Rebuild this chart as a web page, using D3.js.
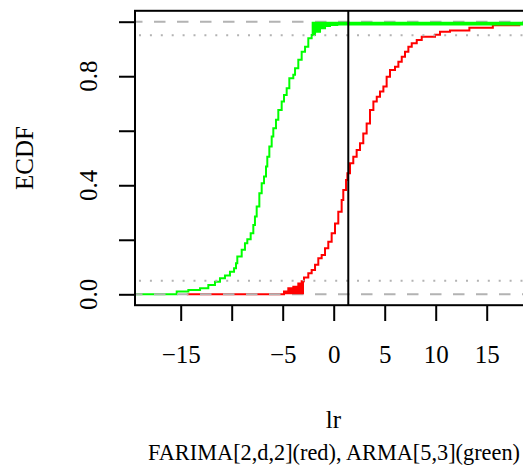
<!DOCTYPE html>
<html>
<head>
<meta charset="utf-8">
<script src="https://cdn.jsdelivr.net/npm/d3@7"></script>
<style>
  html, body { margin: 0; padding: 0; background: #ffffff; }
  svg { display: block; }
  text { font-family: "Liberation Serif", "Times New Roman", serif; fill: #000; }
</style>
</head>
<body>
<svg id="chart" width="523" height="467"></svg>
<script>
// ---- data (ECDF step locations and levels) ----
const redX = [-14.4, -4.87, -4.45, -3.96, -3.47, -3.14, -2.91, -2.49, -2.16, -1.83, -1.51, -1.18, -0.85, -0.53, -0.20, 0.13, 0.45, 0.78, 0.94, 1.21, 1.34, 1.60, 1.92, 2.25, 2.58, 2.90, 3.23, 3.56, 3.89, 4.22, 4.54, 4.87, 5.19, 5.52, 6.01, 6.34, 6.67, 6.99, 7.32, 7.65, 8.14, 8.63, 9.93, 10.42, 11.40, 13.30, 15.60, 18.30];
const redF = [0, 0.010, 0.022, 0.028, 0.040, 0.048, 0.062, 0.077, 0.089, 0.108, 0.132, 0.144, 0.169, 0.193, 0.224, 0.260, 0.303, 0.346, 0.383, 0.419, 0.444, 0.481, 0.505, 0.529, 0.554, 0.590, 0.627, 0.676, 0.707, 0.725, 0.744, 0.762, 0.798, 0.823, 0.835, 0.853, 0.871, 0.890, 0.908, 0.921, 0.933, 0.945, 0.952, 0.963, 0.968, 0.978, 0.987, 0.987];
const greenX = [-21, -15.39, -14.25, -13.10, -12.29, -11.64, -11.15, -10.66, -10.17, -9.77, -9.58, -9.45, -9.02, -8.70, -8.47, -8.14, -7.88, -7.72, -7.55, -7.29, -7.06, -6.83, -6.64, -6.51, -6.31, -6.08, -5.92, -5.66, -5.43, -5.10, -4.87, -4.61, -4.35, -3.96, -3.79, -3.47, -3.14, -2.81, -2.49, -2.16, -1.83, -1.34, -0.85, -0.36, 0.35, 21];
const greenF = [0, 0.010, 0.016, 0.022, 0.034, 0.046, 0.059, 0.069, 0.083, 0.096, 0.114, 0.139, 0.163, 0.187, 0.202, 0.224, 0.254, 0.285, 0.322, 0.371, 0.407, 0.432, 0.469, 0.505, 0.542, 0.579, 0.609, 0.640, 0.676, 0.707, 0.731, 0.756, 0.793, 0.805, 0.829, 0.860, 0.890, 0.908, 0.939, 0.951, 0.963, 0.976, 0.984, 0.988, 0.990, 0.990];
const vlineX = 1.43;
const hDashed = [0, 1];
const hDotted = [0.05, 0.95];
const xTicks = [-15, -10, -5, 0, 5, 10, 15];
const xTickLabels = ["\u221215", "", "\u22125", "0", "5", "10", "15"];
const yTicks = [0, 0.2, 0.4, 0.6, 0.8, 1.0];
const yLabelValues = [0, 0.4, 0.8];
const yLabelTexts = ["0.0", "0.4", "0.8"];
const redCut = -2.91;    // lower 5% tail end (red)
const greenCut = -2.16;  // upper 5% tail start (green)

const svg = d3.select("#chart");
const x = d3.scaleLinear().domain([-19.48, 19.44]).range([135, 532]);
const y = d3.scaleLinear().domain([-0.04, 1.04]).range([305.2, 10.8]);

svg.append("defs").append("clipPath").attr("id", "clip")
  .append("rect").attr("x", 135).attr("y", 10.8).attr("width", 397).attr("height", 294.4);

const plot = svg.append("g").attr("clip-path", "url(#clip)");
const toPts = (xs, fs) => xs.map((v, i) => [v, fs[i]]);
const redPts = toPts(redX, redF);
const greenPts = toPts(greenX, greenF);
const step = d3.line().x(d => x(d[0])).y(d => y(d[1])).curve(d3.curveStepAfter);

plot.append("path").attr("d", step(redPts)).attr("fill", "none").attr("stroke", "#ff0000").attr("stroke-width", 2);
plot.append("path").attr("d", step(greenPts)).attr("fill", "none").attr("stroke", "#00ff00").attr("stroke-width", 2);

// reference lines
hDashed.forEach(v => {
  plot.append("line").attr("x1", 135).attr("x2", 532).attr("y1", y(v)).attr("y2", y(v))
    .attr("stroke", "#b3b3b3").attr("stroke-width", 2).attr("stroke-dasharray", "11.5,11.5").attr("stroke-dashoffset", 4);
});
hDotted.forEach(v => {
  plot.append("line").attr("x1", 135).attr("x2", 532).attr("y1", y(v)).attr("y2", y(v))
    .attr("stroke", "#b3b3b3").attr("stroke-width", 2).attr("stroke-dasharray", "2,8.9").attr("stroke-dashoffset", -4);
});

// red lower-tail fill
const redTail = redPts.filter(d => d[0] >= redX[1] && d[0] <= redCut);
const redPoly = [[redTail[0][0], 0]];
redTail.forEach((d, i) => {
  redPoly.push([d[0], i === 0 ? 0 : redTail[i - 1][1]]);
  redPoly.push([d[0], d[1]]);
});
redPoly.push([redCut, 0]);
plot.append("path").attr("d", d3.line().x(d => x(d[0])).y(d => y(d[1]))(redPoly) + "Z").attr("fill", "#ff0000");

// green upper-tail fill
const greenTail = greenPts.filter(d => d[0] >= greenCut);
const greenPoly = [[greenCut, 1]];
greenTail.forEach((d, i) => {
  if (i > 0) greenPoly.push([d[0], greenTail[i - 1][1]]);
  greenPoly.push([d[0], d[1]]);
});
greenPoly.push([greenTail[greenTail.length - 1][0], 1]);
plot.append("path").attr("d", d3.line().x(d => x(d[0])).y(d => y(d[1]))(greenPoly) + "Z").attr("fill", "#00ff00");

// vertical line
plot.append("line").attr("x1", x(vlineX)).attr("x2", x(vlineX)).attr("y1", 10.8).attr("y2", 305.2)
  .attr("stroke", "#000").attr("stroke-width", 2);

// box
svg.append("rect").attr("x", 135).attr("y", 10.8).attr("width", 397).attr("height", 294.4)
  .attr("fill", "none").attr("stroke", "#000").attr("stroke-width", 2);

// x axis
const xAxis = d3.axisBottom(x).tickValues(xTicks).tickSize(16).tickPadding(24)
  .tickFormat((d, i) => xTickLabels[i]);
const gx = svg.append("g").attr("transform", "translate(0,305)").call(xAxis);
gx.select(".domain").remove();
gx.selectAll(".tick line").attr("stroke", "#000").attr("stroke-width", 2);
gx.selectAll(".tick text").attr("font-size", 25).attr("font-family", "Liberation Serif");

// y axis
const yAxis = d3.axisLeft(y).tickValues(yTicks).tickSize(16).tickFormat("");
const gy = svg.append("g").attr("transform", "translate(135,0)").call(yAxis);
gy.select(".domain").remove();
gy.selectAll(".tick line").attr("stroke", "#000").attr("stroke-width", 2);
yLabelValues.forEach((v, i) => {
  svg.append("text").attr("transform", `translate(97,${y(v)}) rotate(-90)`)
    .attr("text-anchor", "middle").attr("font-size", 25).text(yLabelTexts[i]);
});

// titles
svg.append("text").attr("transform", "translate(33,158) rotate(-90)").attr("text-anchor", "middle")
  .attr("font-size", 25).text("ECDF");
svg.append("text").attr("x", 333.5).attr("y", 428).attr("text-anchor", "middle")
  .attr("font-size", 25).text("lr");
svg.append("text").attr("x", 334).attr("y", 460).attr("text-anchor", "middle")
  .attr("font-size", 22.5).attr("textLength", 372).attr("lengthAdjust", "spacingAndGlyphs")
  .text("FARIMA[2,d,2](red), ARMA[5,3](green)");
</script>
</body>
</html>
